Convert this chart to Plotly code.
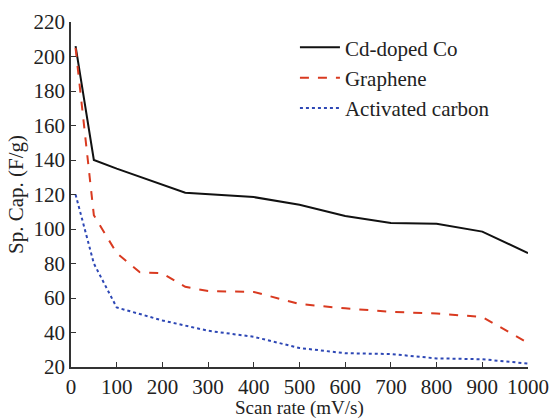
import plotly.graph_objects as go

scan_rate_cd = [10, 50, 100, 250, 400, 500, 600, 700, 800, 900, 1000]
cap_cd = [206, 140, 135, 121, 118.5, 114, 107.5, 103.5, 103, 98.5, 86]

scan_rate_gr = [10, 50, 100, 150, 200, 250, 300, 400, 500, 600, 700, 800, 900, 1000]
cap_gr = [205, 108, 86, 75, 74.3, 66.5, 64, 63.5, 56.5, 54, 52, 51, 49, 34]

scan_rate_ac = [10, 50, 100, 200, 300, 400, 500, 600, 700, 800, 900, 1000]
cap_ac = [120, 80, 54.5, 47, 41, 37.5, 31, 28, 27.5, 25, 24.5, 22]

x_ticks = [0, 100, 200, 300, 400, 500, 600, 700, 800, 900, 1000]
y_ticks = [20, 40, 60, 80, 100, 120, 140, 160, 180, 200, 220]

FONT = "'Liberation Serif', 'DejaVu Serif', serif"

fig = go.Figure()
fig.add_trace(go.Scatter(x=scan_rate_cd, y=cap_cd, mode="lines", name="Cd-doped Co",
                         line=dict(color="#111111", width=2)))
fig.add_trace(go.Scatter(x=scan_rate_gr, y=cap_gr, mode="lines", name="Graphene",
                         line=dict(color="#d93a20", width=2, dash="dash")))
fig.add_trace(go.Scatter(x=scan_rate_ac, y=cap_ac, mode="lines", name="Activated carbon",
                         line=dict(color="#2d47b5", width=2, dash="dot")))

axis_common = dict(showline=True, linecolor="#333333", linewidth=1.5, ticks="inside",
                   ticklen=5, tickwidth=1.2, tickcolor="#333333", showgrid=False,
                   zeroline=False, mirror=False, automargin=False,
                   tickfont=dict(family=FONT, size=21, color="#222222"))

fig.update_xaxes(range=[0, 1000], tickvals=x_ticks, **axis_common)
fig.update_yaxes(range=[20, 220], tickvals=y_ticks,
                 title=dict(text="Sp. Cap. (F/g)", font=dict(family=FONT, size=21, color="#222222"),
                            standoff=4),
                 **axis_common)

fig.add_annotation(text="Scan rate (mV/s)", xref="paper", yref="paper", x=0.5, y=0,
                   xanchor="center", yanchor="top", yshift=-29, showarrow=False,
                   borderpad=0,
                   font=dict(family=FONT, size=19, color="#222222"))

fig.update_layout(
    width=552, height=420,
    margin=dict(l=71, r=24, t=22, b=53),
    plot_bgcolor="white", paper_bgcolor="white",
    font=dict(family=FONT, size=21, color="#222222"),
    legend=dict(x=0.49, y=0.985, xanchor="left", yanchor="top",
                bgcolor="rgba(0,0,0,0)", font=dict(family=FONT, size=21),
                tracegroupgap=0, itemwidth=40),
    showlegend=True,
)

fig.write_html("out.html")
